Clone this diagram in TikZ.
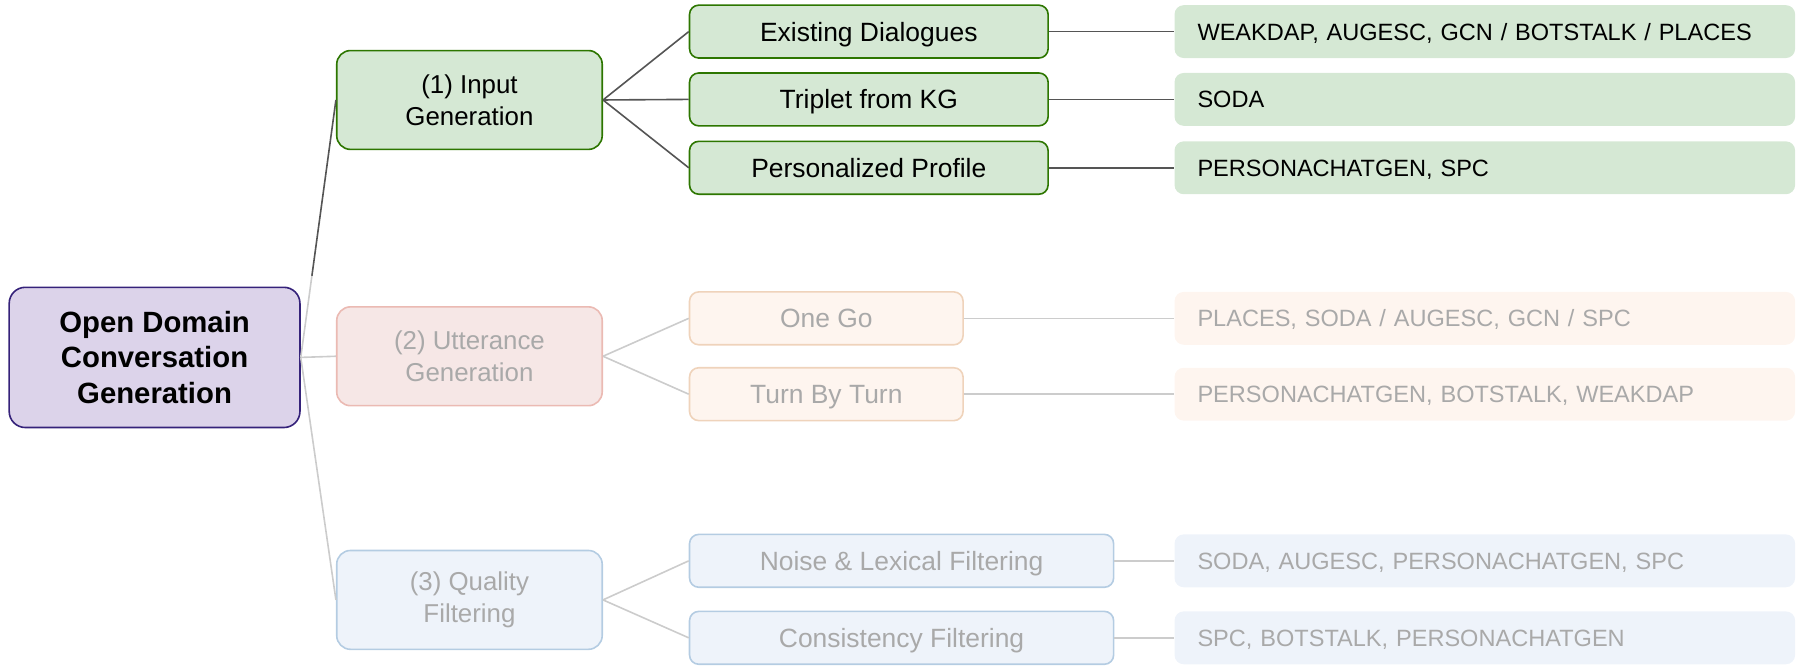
\documentclass[tikz,border=0pt]{standalone}
\usepackage{fontspec}
\setmainfont{Liberation Sans}
\usetikzlibrary{calc}
\definecolor{rootfill}{HTML}{DCD3EA}
\definecolor{rootline}{HTML}{35227A}
\definecolor{gfill}{HTML}{D5E8D4}
\definecolor{gline}{HTML}{2D7600}
\definecolor{rfill}{HTML}{F6E7E6}
\definecolor{rline}{HTML}{EBBAB3}
\definecolor{ofill}{HTML}{FEF5EF}
\definecolor{oline}{HTML}{EFD3BB}
\definecolor{bfill}{HTML}{EEF3FA}
\definecolor{bline}{HTML}{B4CCE2}
\definecolor{fadetext}{HTML}{A9A9A9}
\definecolor{darkedge}{HTML}{555555}
\definecolor{fadeedge}{HTML}{CCCCCC}
\begin{document}
\begin{tikzpicture}[x=1pt,y=-1pt,
  rootbox/.style={draw=rootline, fill=rootfill, line width=1.4pt, rounded corners=14pt,
    minimum width=253pt, minimum height=122pt, inner sep=0pt, align=center,
    font=\fontsize{25.5}{31}\selectfont\bfseries},
  lvone/.style={line width=1.4pt, rounded corners=12pt, minimum width=231pt, minimum height=86pt,
    inner sep=0pt, align=center, font=\fontsize{22.5}{27.5}\selectfont},
  lvtwo/.style={line width=1.4pt, rounded corners=8pt, minimum height=46pt,
    inner sep=0pt, align=center, font=\fontsize{23}{26}\selectfont,
    text height=16.5pt, text depth=0pt},
  leaf/.style={rounded corners=8pt, minimum height=46pt, text width=500pt, inner xsep=20pt,
    inner ysep=0pt, align=left, font=\fontsize{20.5}{24}\selectfont,
    text height=14.7pt, text depth=0pt},
  green/.style={draw=gline, fill=gfill, text=black},
  red/.style={draw=rline, fill=rfill, text=fadetext},
  orange/.style={draw=oline, fill=ofill, text=fadetext},
  blue/.style={draw=bline, fill=bfill, text=fadetext},
  dark/.style={draw=darkedge, line width=1.4pt},
  fade/.style={draw=fadeedge, line width=1.4pt}]
\useasboundingbox (0,0) rectangle (1568,579.5);

\node[rootbox] (root) at (134.5,311) {Open Domain\\Conversation\\Generation};
\node[lvone, green] (n1) at (408.5,87) {(1) Input\\Generation};
\node[lvone, red] (n2) at (408.5,310) {(2) Utterance\\Generation};
\node[lvone, blue] (n3) at (408.5,522) {(3) Quality\\Filtering};

\node[lvtwo, green, minimum width=312pt] (a1) at (756,27.5) {Existing Dialogues};
\node[lvtwo, green, minimum width=312pt] (a2) at (756,86.5) {Triplet from KG};
\node[lvtwo, green, minimum width=312pt] (a3) at (756,146) {Personalized Profile};
\node[lvtwo, orange, minimum width=238pt] (b1) at (719,277) {One Go};
\node[lvtwo, orange, minimum width=238pt] (b2) at (719,343) {Turn By Turn};
\node[lvtwo, blue, minimum width=369pt] (c1) at (784.5,488) {Noise \& Lexical Filtering};
\node[lvtwo, blue, minimum width=369pt] (c2) at (784.5,555) {Consistency Filtering};

\node[leaf, fill=gfill, text=black] (ra1) at (1292,27.5) {WEAKDAP, AUGESC, GCN / BOTSTALK / PLACES};
\node[leaf, fill=gfill, text=black] (ra2) at (1292,86.5) {SODA};
\node[leaf, fill=gfill, text=black] (ra3) at (1292,146) {PERSONACHATGEN, SPC};
\node[leaf, fill=ofill, text=fadetext] (rb1) at (1292,277) {PLACES, SODA / AUGESC, GCN / SPC};
\node[leaf, fill=ofill, text=fadetext] (rb2) at (1292,343) {PERSONACHATGEN, BOTSTALK, WEAKDAP};
\node[leaf, fill=bfill, text=fadetext] (rc1) at (1292,488) {SODA, AUGESC, PERSONACHATGEN, SPC};
\node[leaf, fill=bfill, text=fadetext] (rc2) at (1292,555) {SPC, BOTSTALK, PERSONACHATGEN};

\coordinate (cut) at ($(root.east)!0.317!(n1.west)$);
\draw[fade] (root.east) -- (cut);
\draw[dark] (cut) -- (n1.west);
\draw[fade] (root.east) -- (n2.west);
\draw[fade] (root.east) -- (n3.west);

\draw[dark] (n1.east) -- (a1.west);
\draw[dark] (n1.east) -- (a2.west);
\draw[dark] (n1.east) -- (a3.west);
\draw[fade] (n2.east) -- (b1.west);
\draw[fade] (n2.east) -- (b2.west);
\draw[fade] (n3.east) -- (c1.west);
\draw[fade] (n3.east) -- (c2.west);

\draw[dark] (a1.east) -- (ra1.west);
\draw[dark] (a2.east) -- (ra2.west);
\draw[dark] (a3.east) -- (ra3.west);
\draw[fade] (b1.east) -- (rb1.west);
\draw[fade] (b2.east) -- (rb2.west);
\draw[fade] (c1.east) -- (rc1.west);
\draw[fade] (c2.east) -- (rc2.west);
\end{tikzpicture}
\end{document}
